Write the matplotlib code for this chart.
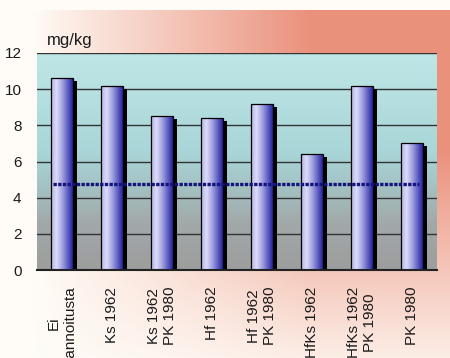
import numpy as np
import matplotlib
matplotlib.use("Agg")
import matplotlib.pyplot as plt
from matplotlib.colors import LinearSegmentedColormap
from matplotlib.transforms import ScaledTranslation

# Data
categories = ["Ei\nlannoitusta", "Ks 1962", "Ks 1962\nPK 1980", "Hf 1962",
              "Hf 1962\nPK 1980", "HfKs 1962", "HfKs 1962\nPK 1980", "PK 1980"]
values = [10.6, 10.2, 8.5, 8.4, 9.2, 6.4, 10.2, 7.0]
reference_level = 4.75
yticks = [0, 2, 4, 6, 8, 10, 12]
unit_label = "mg/kg"

W, H, DPI = 450, 358, 100
fig = plt.figure(figsize=(W / DPI, H / DPI), dpi=DPI)

# Figure backdrop: white fading into salmon toward the upper right
bg_ax = fig.add_axes([0, 0, 1, 1], zorder=-2)
bg_ax.set_axis_off()
yy, xx = np.mgrid[0:H, 0:W].astype(float)
tx = np.clip((xx - 30) / 280, 0, 1)
ty = np.clip(1 - (yy - 150) / 240, 0, 1)
t = tx * ty
t[yy < 10] = 0
white = np.array([1.0, 0.99, 0.97])
salmon = np.array([0.92, 0.57, 0.49])
img = white[None, None, :] * (1 - t[..., None]) + salmon[None, None, :] * t[..., None]
bg_ax.imshow(img, extent=(0, 1, 0, 1), aspect="auto", origin="upper")
bg_ax.set_xlim(0, 1)
bg_ax.set_ylim(0, 1)

left, right, top, bottom = 36.7, 436.7, 53.0, 270.0
ax = fig.add_axes([left / W, 1 - bottom / H, (right - left) / W, (bottom - top) / H], zorder=1)

x = np.arange(len(categories))
ax.set_xlim(-0.5, len(categories) - 0.5)
ax.set_ylim(0, 12)

# Plot-area gradient: pale cyan at the top to grey at the bottom
grad_cmap = LinearSegmentedColormap.from_list(
    "area", [(0.0, "#9d9d9d"), (0.22, "#a2a9a9"), (0.4, "#a4c4c6"),
             (0.55, "#a9d6d8"), (1.0, "#bfe6e6")])
ax.imshow(np.linspace(0, 1, 256)[:, None], cmap=grad_cmap, origin="lower",
          extent=(-0.5, len(categories) - 0.5, 0, 12), aspect="auto", zorder=0)

for yv in yticks[1:]:
    ax.axhline(yv, color="#333333", lw=1.0, zorder=1)

bar_w = 0.44
# Drop shadows
shadow = ax.bar(x, values, bar_w, color="black", zorder=2,
                transform=ax.transData + ScaledTranslation(4 / DPI, -3 / DPI, fig.dpi_scale_trans))
bars = ax.bar(x, values, bar_w, color="none", edgecolor="black", lw=0.9, zorder=4)

bar_cmap = LinearSegmentedColormap.from_list(
    "bar", [(0.0, "#b0b0e6"), (0.25, "#dcdcf8"), (0.55, "#9a9ade"),
            (0.85, "#4a4ab8"), (1.0, "#22229a")])
for b in bars:
    x0, w, h = b.get_x(), b.get_width(), b.get_height()
    im = ax.imshow(np.linspace(0, 1, 128)[None, :], cmap=bar_cmap,
                   extent=(x0, x0 + w, 0, h), aspect="auto", zorder=3)
    im.set_clip_path(b)

ax.set_xlim(-0.5, len(categories) - 0.5)
ax.set_ylim(0, 12)

# Reference level
ax.plot([x[0] - 0.17, x[-1] + 0.15], [reference_level] * 2, color="#14147a",
        lw=2.4, linestyle=(0, (1.0, 0.4)), solid_capstyle="butt", zorder=5)

for s in ["left", "right", "top"]:
    ax.spines[s].set_visible(False)
ax.spines["bottom"].set_color("#222222")
ax.spines["bottom"].set_linewidth(1.5)
ax.spines["bottom"].set_zorder(6)

ax.set_yticks(yticks)
ax.set_yticklabels([str(v) for v in yticks],
                   family=["Liberation Sans Narrow", "Liberation Sans"], fontsize=11)
ax.set_xticks(x)
ax.set_xticklabels(categories, rotation=90, ha="center", va="top",
                   multialignment="center", family="Liberation Sans", fontsize=11)
ax.tick_params(axis="y", length=0, pad=11, colors="#1a1a1a")
ax.tick_params(axis="x", length=0, pad=12, colors="#1a1a1a")

fig.text(47 / W, 1 - 45 / H, unit_label, family="Liberation Sans", fontsize=12,
         color="#1a1a1a", ha="left", va="baseline")

fig.savefig("out.png", dpi=DPI)
